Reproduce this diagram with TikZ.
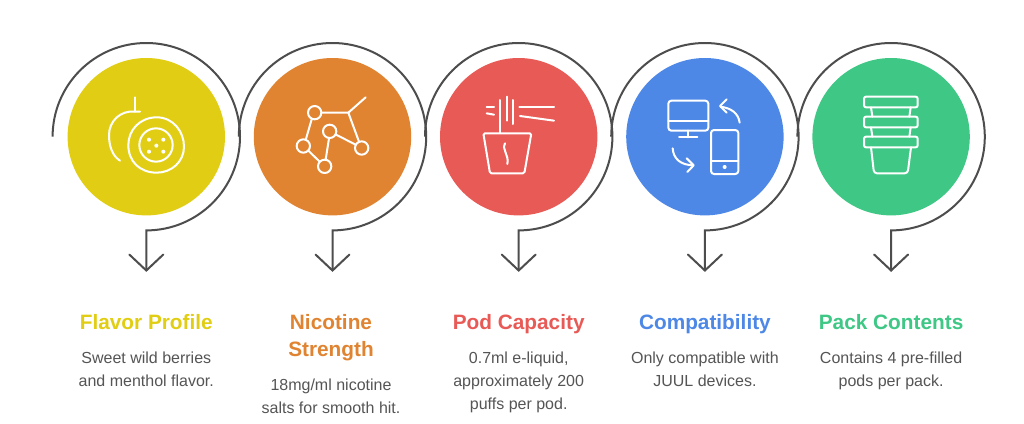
\documentclass[tikz,border=0pt]{standalone}
\usepackage{fontspec}
\setmainfont{Liberation Sans}
\definecolor{cyellow}{HTML}{E1CE14}
\definecolor{corange}{HTML}{E08431}
\definecolor{cred}{HTML}{E85A56}
\definecolor{cblue}{HTML}{4E88E7}
\definecolor{cgreen}{HTML}{3FC785}
\definecolor{cline}{HTML}{4D4D4D}
\definecolor{cbody}{HTML}{555555}
\tikzset{
  disc/.style={circle,minimum size=157.4pt,inner sep=0pt,outer sep=0pt},
  ringline/.style={draw=cline,line width=2pt,line join=miter},
  headline/.style={font=\bfseries\fontsize{20.8}{27}\selectfont,align=center,anchor=north,inner sep=0pt},
  bodytext/.style={font=\fontsize{16}{23}\selectfont,text=cbody,align=center,anchor=north,inner sep=0pt},
  glyph/.style={draw=white,line width=2pt,line cap=round,line join=round},
  glyphzoom/.style={scale=1/3}
}
\newcommand{\ringstep}[3]{%
  \node[disc,fill=#3] (#1) at (#2,136.7) {};
  \coordinate (#1start) at (#2-93.7,136.7);
  \coordinate (#1tip) at (#2,270.5);
  \draw[ringline] (#1start) arc[start angle=180,end angle=-90,x radius=93.7pt,y radius=93.7pt] -- (#1tip);
  \draw[ringline,line cap=round,line join=miter] (#1tip)+(-17,-16) -- (#1tip) -- +(17,-16);
}
\begin{document}
\begin{tikzpicture}[x=1pt,y=-1pt]
\useasboundingbox[fill=white] (0,0) rectangle (1024,423);
\ringstep{a}{146.3}{cyellow}
\ringstep{b}{332.5}{corange}
\ringstep{c}{518.7}{cred}
\ringstep{d}{704.9}{cblue}
\ringstep{e}{891.1}{cgreen}

% icon 1
\begin{scope}[shift={(100,90)},glyphzoom,glyph]
\draw (105,22) -- (105,65);
\draw (120,65) -- (105,65) .. controls (60,60) and (27,95) .. (27,135) .. controls (27,170) and (38,198) .. (60,212);
\draw (170,82) .. controls (220,82) and (252,125) .. (252,170) .. controls (252,215) and (215,248) .. (170,248) .. controls (120,248) and (85,215) .. (85,165) .. controls (85,120) and (120,82) .. (170,82) -- cycle;
\draw (168,165) circle (50);
\foreach \p in {(147,149),(190,149),(169,167),(147,185),(190,185)}
  \fill[white,draw=none] \p circle (6);
\end{scope}
% icon 2
\begin{scope}[shift={(285,90)},glyphzoom,glyph]
\draw (89,68) circle (20) (55,168) circle (20) (119,229) circle (20) (134,124) circle (20) (230,174) circle (20);
\draw (110,68) -- (190,68) -- (242,22);
\draw (190,68) -- (222,155);
\draw (80,88) -- (62,150);
\draw (70,182) -- (104,215);
\draw (122,209) -- (132,145);
\draw (153,134) -- (212,164);
\end{scope}
% icon 3
\begin{scope}[shift={(470,90)},glyphzoom,glyph]
\draw (90,30) -- (90,128);
\draw (110,20) -- (110,92);
\draw (130,30) -- (130,102);
\draw (148,50) -- (252,50);
\draw (150,78) -- (252,92);
\draw (50,50) -- (72,50);
\draw (50,70) -- (72,74);
\draw[rounded corners=1.5pt] (40,130) -- (184,130) -- (163,250) -- (60,250) -- cycle;
\draw (105,160) .. controls (95,180) and (118,195) .. (112,222);
\end{scope}
% icon 4
\begin{scope}[shift={(655,90)},glyphzoom,glyph]
\draw[rounded corners=3pt] (40,32) rectangle (160,122);
\draw (40,93) -- (160,93);
\draw (100,122) -- (100,142);
\draw (72,142) -- (127,142);
\draw[rounded corners=3pt] (168,120) rectangle (250,252);
\draw (168,212) -- (250,212);
\fill[white,draw=none] (209,231) circle (6);
\draw (254,98) .. controls (250,70) and (230,55) .. (197,50);
\draw (215,28) -- (195,48) -- (215,68);
\draw (53,175) .. controls (55,205) and (75,225) .. (115,226);
\draw (95,205) -- (116,226) -- (97,246);
\end{scope}
% icon 5
\begin{scope}[shift={(840,90)},glyphzoom,glyph]
\draw[rounded corners=2pt] (72,20) rectangle (233,52);
\draw[rounded corners=2pt] (72,80) rectangle (233,112);
\draw[rounded corners=2pt] (72,140) rectangle (233,172);
\draw (93,52) -- (97,80) (212,52) -- (208,80);
\draw (93,112) -- (97,140) (212,112) -- (208,140);
\draw[rounded corners=3pt] (93,172) -- (102,250) -- (203,250) -- (213,172);
\end{scope}

% texts
\node[headline,text=cyellow] (ta) at (146.3,314) {Flavor Profile};
\node[headline,text=corange] (tb) at (331,314) {Nicotine\\Strength};
\node[headline,text=cred] (tc) at (518.7,314) {Pod Capacity};
\node[headline,text=cblue] (td) at (704.9,314) {Compatibility};
\node[headline,text=cgreen] (te) at (891.1,314) {Pack Contents};
\node[bodytext] (ba) at (146.3,352) {Sweet wild berries\\and menthol flavor.};
\node[bodytext] (bb) at (331,379) {18mg/ml nicotine\\salts for smooth hit.};
\node[bodytext] (bc) at (518.7,352) {0.7ml e-liquid,\\approximately 200\\puffs per pod.};
\node[bodytext] (bd) at (704.9,352) {Only compatible with\\JUUL devices.};
\node[bodytext] (be) at (891.1,352) {Contains 4 pre-filled\\pods per pack.};
\end{tikzpicture}
\end{document}
